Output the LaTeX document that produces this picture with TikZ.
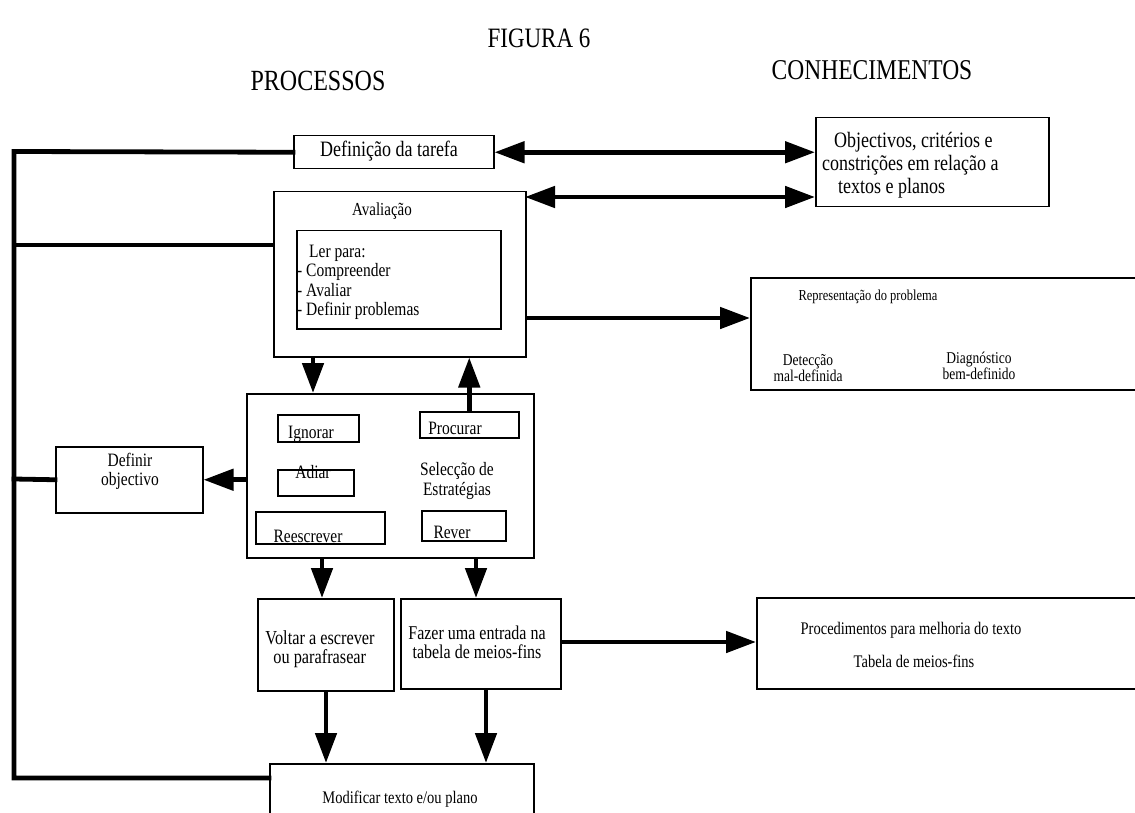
\documentclass[tikz,border=0pt]{standalone}
\usepackage{fontspec}
\usepackage{graphicx}
\setmainfont{Liberation Serif}
\usetikzlibrary{arrows.meta}

\newcommand{\fs}[2]{\fontsize{#1}{#2}\selectfont}
% narrow, tall lettering
\newcommand{\tx}[1]{\scalebox{1}[1.22]{\begin{tabular}{@{}c@{}}#1\end{tabular}}}
\newcommand{\txl}[1]{\scalebox{1}[1.22]{\begin{tabular}{@{}l@{}}#1\end{tabular}}}

\tikzset{
  bx/.style={draw, line width=1.5pt, inner sep=0pt, anchor=north west},
  lbl/.style={inner sep=0pt},
  loopline/.style={line width=4.8pt, line cap=rect},
  arr/.style={line width=4.8pt, -{Triangle[length=30pt,width=21pt]}},
  dbl/.style={line width=4.8pt, {Triangle[length=30pt,width=21pt]}-{Triangle[length=30pt,width=21pt]}},
}

\begin{document}
\begin{tikzpicture}[x=1pt, y=-1pt]
\useasboundingbox (0,0) rectangle (1135,813);

% headings
\node[lbl, font=\fs{23}{24}] (fig) at (539,42) {\tx{FIGURA 6}};
\node[lbl, font=\fs{24}{25}] (proc) at (318,84) {\tx{PROCESSOS}};
\node[lbl, font=\fs{23.5}{25}] (conh) at (872,73) {\tx{CONHECIMENTOS}};

% task definition and its knowledge
\node[bx, minimum width=200pt, minimum height=33pt] (def) at (293,135) {};
\node[lbl, font=\fs{18}{18}] (deft) at (389,152) {\tx{Definição da tarefa}};

\node[bx, minimum width=233pt, minimum height=89pt] (obj) at (815,117) {};
\node[lbl, font=\fs{18}{18}, anchor=west] (obj1) at (834,143) {\tx{Objectivos, critérios e}};
\node[lbl, font=\fs{18}{18}, anchor=west] (obj2) at (822,166) {\tx{constrições em relação a}};
\node[lbl, font=\fs{18}{18}, anchor=west] (obj3) at (838,189) {\tx{textos e planos}};

% evaluation
\node[bx, minimum width=252pt, minimum height=165pt] (aval) at (273,191) {};
\node[lbl, font=\fs{15}{16}] (avalt) at (382,212) {\tx{Avaliação}};
\node[bx, minimum width=204pt, minimum height=98pt] (ler) at (296,230) {};
\node[lbl, font=\fs{15.5}{16}, anchor=base west] (ler0) at (309,258) {\tx{Ler para:}};
\node[lbl, font=\fs{15.5}{16}, anchor=base west] (ler1) at (297,277) {\tx{- Compreender}};
\node[lbl, font=\fs{15.5}{16}, anchor=base west] (ler2) at (297,297) {\tx{- Avaliar}};
\node[lbl, font=\fs{15.5}{16}, anchor=base west] (ler3) at (297,316) {\tx{- Definir problemas}};

% problem representation
\node[bx, minimum width=420pt, minimum height=112pt] (rep) at (750,277) {};
\node[lbl, font=\fs{12.5}{14}] (rept) at (868,297) {\tx{Representação do problema}};
\node[lbl, font=\fs{13.5}{13.5}] (det) at (808,370) {\tx{Detecção\\mal-definida}};
\node[lbl, font=\fs{13.5}{13.5}] (diag) at (979,368) {\tx{Diagnóstico\\bem-definido}};

% strategy selection
\node[bx, minimum width=287pt, minimum height=164pt] (strat) at (246,393) {};
\node[bx, minimum width=81pt, minimum height=27pt] (ign) at (277,414) {};
\node[lbl, font=\fs{15.5}{16}] (ignt) at (311,435) {\tx{Ignorar}};
\node[bx, minimum width=99pt, minimum height=26pt] (prc) at (419,411) {};
\node[lbl, font=\fs{15.5}{16}] (prct) at (455,431) {\tx{Procurar}};
\node[bx, minimum width=76pt, minimum height=26pt] (adi) at (277,469) {};
\node[lbl, font=\fs{15.5}{16}] (adit) at (313,475) {\tx{Adiar}};
\node[lbl, font=\fs{15.5}{16.4}] (selt) at (457,481) {\tx{Selecção de\\Estratégias}};
\node[bx, minimum width=129pt, minimum height=32pt] (rees) at (255,511) {};
\node[lbl, font=\fs{15.5}{16}] (reest) at (308,539) {\tx{Reescrever}};
\node[bx, minimum width=84pt, minimum height=30pt] (rev) at (421,510) {};
\node[lbl, font=\fs{15.5}{16}] (revt) at (452,535) {\tx{Rever}};

% goal definition
\node[bx, minimum width=147pt, minimum height=66pt] (defo) at (55,446) {};
\node[lbl, font=\fs{15.5}{15}] (defot) at (130,472) {\tx{Definir\\objectivo}};

% actions
\node[bx, minimum width=136pt, minimum height=92pt] (volt) at (257,598) {};
\node[lbl, font=\fs{16.3}{15}] (voltt) at (320,650) {\txl{Voltar a escrever\\\hspace{8pt}ou parafrasear}};
\node[bx, minimum width=160pt, minimum height=90pt] (faz) at (400,598) {};
\node[lbl, font=\fs{16}{15.5}] (fazt) at (477,645) {\tx{Fazer uma entrada na\\tabela de meios-fins}};

\node[bx, minimum width=420pt, minimum height=91pt] (procd) at (756,597) {};
\node[lbl, font=\fs{14.5}{15}] (procd1) at (911,631) {\tx{Procedimentos para melhoria do texto}};
\node[lbl, font=\fs{14.5}{15}] (procd2) at (914,664) {\tx{Tabela de meios-fins}};

\node[bx, minimum width=264pt, minimum height=80pt] (mod) at (269,763) {};
\node[lbl, font=\fs{14.5}{15}] (modt) at (400,800) {\tx{Modificar texto e/ou plano}};

% feedback loop on the left
\coordinate (LT) at (14,151.5);
\coordinate (LA) at (14,245);
\coordinate (LD) at (14,479);
\coordinate (LB) at (14,778);
\draw[loopline] (def.west) -- (LT) -- (LB) -- (LB -| mod.west);
\draw[loopline] (LA) -- (LA -| aval.west);
\draw[loopline] (LD) -- (defo.west);

% connectors
\coordinate (c2) at (525,197);
\draw[dbl] (def.east) -- (def.east -| obj.west);
\draw[dbl] (c2) -- (c2 -| obj.west);
\coordinate (c3) at (525,318);
\draw[arr] (c3) -- (c3 -| rep.west);
\coordinate (c4) at (313,356);
\draw[arr] (c4) -- (c4 |- strat.north);
\draw[arr] (prc.north) -- (prc.north |- aval.south);
\draw[arr] (strat.west |- defo.east) -- (defo.east);
\coordinate (c5) at (322,557);
\draw[arr] (c5) -- (c5 |- volt.north);
\coordinate (c6) at (476,557);
\draw[arr] (c6) -- (c6 |- faz.north);
\coordinate (c7) at (560,642);
\draw[arr] (c7) -- (c7 -| procd.west);
\coordinate (c8) at (326,690);
\draw[arr] (c8) -- (c8 |- mod.north);
\coordinate (c9) at (486,688);
\draw[arr] (c9) -- (c9 |- mod.north);
\end{tikzpicture}
\end{document}
